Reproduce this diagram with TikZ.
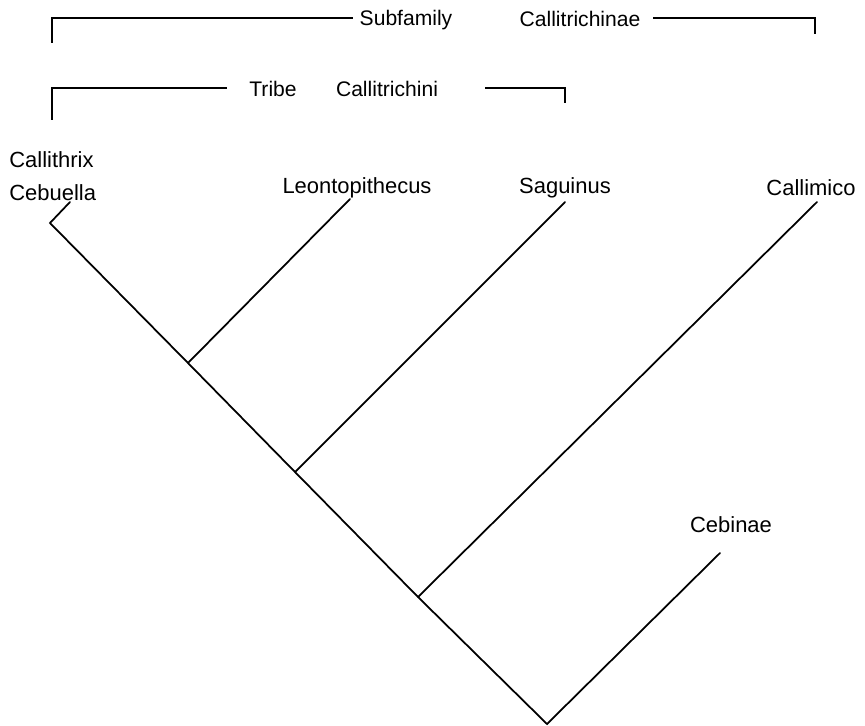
\documentclass[tikz,border=0pt]{standalone}
\usepackage{fontspec}
\setmainfont{Liberation Sans}
\usetikzlibrary{positioning}

\begin{document}
\begin{tikzpicture}[x=0.02cm, y=-0.02cm]
    % Define styles
    \tikzstyle{branch} = [line width=1pt, line cap=round]
    \tikzstyle{bracket} = [line width=0.6pt]
    \tikzstyle{taxon} = [inner sep=0pt, font=\fontsize{12.5}{14}\selectfont]
    \tikzstyle{rank} = [inner sep=0pt, font=\fontsize{12}{14}\selectfont]

    \useasboundingbox (0,0) rectangle (865,726);

    % Junctions of the tree
    \coordinate (root) at (547,724);
    \coordinate (calj) at (418,597);
    \coordinate (sagj) at (295,472);
    \coordinate (leoj) at (188,363);
    \coordinate (cebj) at (50,223);

    % Tips of the branches
    \coordinate (cebt) at (70,202);
    \coordinate (leot) at (350,199);
    \coordinate (sagt) at (565,202);
    \coordinate (calt) at (817,202);
    \coordinate (cbnt) at (720,553);

    % Taxon labels
    \node[taxon, anchor=west] (callithrix) at (9,160) {Callithrix};
    \node[taxon, anchor=west] (cebuella) at (9,193) {Cebuella};
    \node[taxon] (leonto) at (357,188) {Leontopithecus};
    \node[taxon] (saguinus) at (565,188) {Saguinus};
    \node[taxon] (callimico) at (811,188) {Callimico};
    \node[taxon] (cebinae) at (731,525) {Cebinae};

    % Draw branches
    \draw[branch] (cebt) -- (cebj) -- (leoj) -- (sagj) -- (calj) -- (root) -- (cbnt);
    \draw[branch] (leoj) -- (leot);
    \draw[branch] (sagj) -- (sagt);
    \draw[branch] (calj) -- (calt);

    % Subfamily bracket
    \node[rank] (subfam) at (406,20) {Subfamily};
    \node[rank] (subname) at (580,19) {Callitrichinae};
    \coordinate (sfl) at (52,18);
    \coordinate (sfr) at (815,18);
    \draw[bracket] ([yshift=-14]sfl) -- (sfl) -- (353,18);
    \draw[bracket] (653,18) -- (sfr) -- ++(0,16);

    % Tribe bracket
    \node[rank] (tribe) at (273,89) {Tribe};
    \node[rank] (tribename) at (387,89) {Callitrichini};
    \coordinate (trl) at (52,88);
    \coordinate (trr) at (565,88);
    \draw[bracket] ([yshift=-18]trl) -- (trl) -- (227,88);
    \draw[bracket] (485,88) -- (trr) -- ++(0,15);
\end{tikzpicture}
\end{document}
